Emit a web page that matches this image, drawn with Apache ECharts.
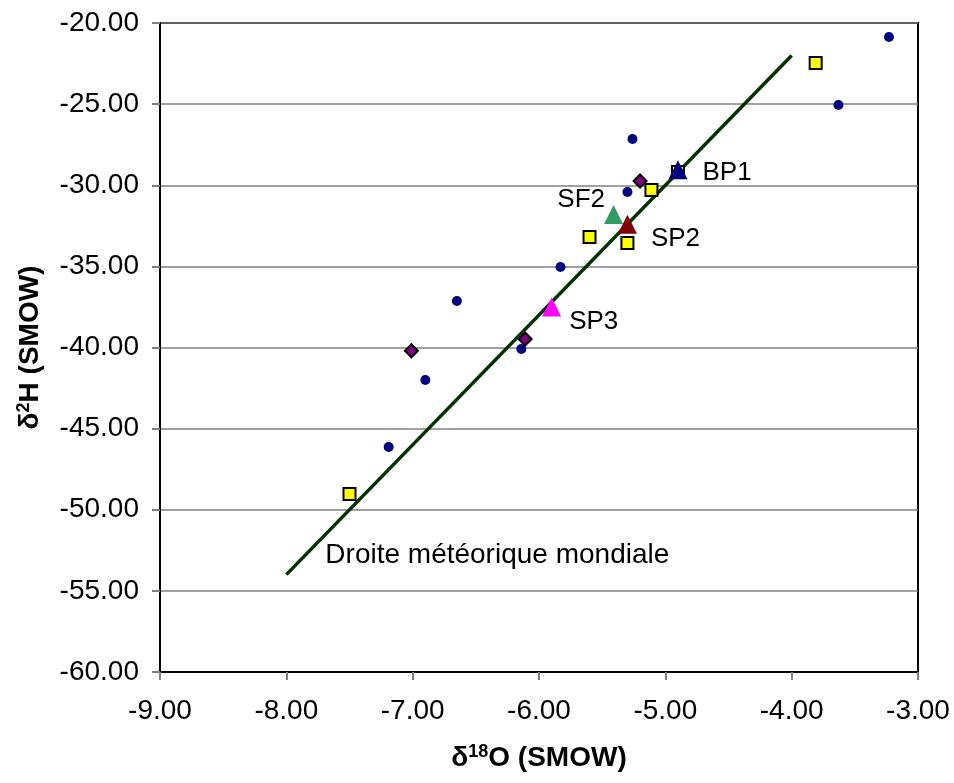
<!DOCTYPE html>
<html>
<head>
<meta charset="utf-8">
<script src="https://cdn.jsdelivr.net/npm/echarts@6/dist/echarts.min.js"></script>
<style>
  html, body { margin: 0; padding: 0; background: #fff; }
  #chart { width: 954px; height: 783px; }
</style>
</head>
<body>
<div id="chart"></div>
<script>
// echantillons (d18O, d2H)
const pointsRonds = [
  [-3.23, -20.86], [-3.63, -25.05], [-5.26, -27.15], [-5.30, -30.42],
  [-5.83, -35.04], [-6.65, -37.13], [-6.14, -40.09], [-6.90, -42.00],
  [-7.19, -46.13]
]
const pointsCarres = [
  [-3.81, -22.47], [-4.90, -29.18], [-5.11, -30.29], [-5.60, -33.19],
  [-5.30, -33.56], [-7.50, -49.03]
]
const pointsLosanges = [
  [-5.20, -29.74], [-7.01, -40.20], [-6.11, -39.48]
]
const sources = ['BP1', 'SF2', 'SP2', 'SP3']
const sourcesValeurs = [
  [-4.90, -29.05], [-5.41, -31.80], [-5.30, -32.40], [-5.90, -37.50]
]
// droite météorique mondiale : d2H = 8 d18O + 10
const droite = [[-8, -54], [-4, -22]]
const libelleDroite = 'Droite météorique mondiale'

const chart = echarts.init(document.getElementById('chart'))

const police = 'Liberation Sans, Arial, sans-serif'
const couleursSources = ['#000080', '#339966', '#800000', '#FF00FF']
const positionsLabels = [
  { position: 'right', offset: [10, 3] },
  { position: 'left', offset: [6, -15] },
  { position: 'right', offset: [9, 15] },
  { position: 'right', offset: [3, 15] }
]

const seriesSources = sources.map((nom, i) => ({
  type: 'scatter',
  symbol: 'triangle',
  symbolSize: 19,
  itemStyle: { color: couleursSources[i], opacity: 1 },
  label: {
    show: true,
    formatter: nom,
    color: '#000',
    fontSize: 26,
    fontFamily: police,
    position: positionsLabels[i].position,
    offset: positionsLabels[i].offset
  },
  data: [sourcesValeurs[i]],
  z: 5
}))

const richNom = {
  b: { fontSize: 28, fontWeight: 'bold', fontFamily: police, color: '#000' },
  s: { fontSize: 18, fontWeight: 'bold', fontFamily: police, color: '#000', verticalAlign: 'top', padding: [0, 0, 12, 0] }
}

chart.setOption({
  animation: false,
  grid: { left: 160, right: 36, top: 23, bottom: 111, show: true, borderColor: '#000', borderWidth: 2 },
  xAxis: {
    type: 'value',
    min: -9, max: -3, interval: 1,
    name: '{b|δ}{s|18}{b|O (SMOW)}',
    nameLocation: 'middle',
    nameGap: 71,
    nameTextStyle: { rich: richNom },
    axisLine: { onZero: false, lineStyle: { color: '#000', width: 2 } },
    axisTick: { length: 8, lineStyle: { color: '#808080', width: 2 } },
    axisLabel: { margin: 25, fontSize: 28, fontFamily: police, color: '#000', formatter: v => v.toFixed(2) },
    splitLine: { show: false }
  },
  yAxis: {
    type: 'value',
    min: -60, max: -20, interval: 5,
    name: '{b|δ}{s|2}{b|H (SMOW)}',
    nameLocation: 'middle',
    nameGap: 115,
    nameRotate: 90,
    nameTextStyle: { rich: richNom },
    axisLine: { onZero: false, lineStyle: { color: '#000', width: 2 } },
    axisTick: { length: 8, lineStyle: { color: '#808080', width: 2 } },
    axisLabel: { margin: 21, fontSize: 28, fontFamily: police, color: '#000', formatter: v => v.toFixed(2) },
    splitLine: { lineStyle: { color: '#808080', width: 1.5 } }
  },
  series: [
    {
      type: 'line',
      data: droite,
      symbol: 'none',
      lineStyle: { color: '#003300', width: 3.5 },
      markPoint: {
        symbol: 'circle',
        symbolSize: 0,
        data: [{ coord: droite[0], value: libelleDroite }],
        label: {
          show: true,
          position: 'right',
          offset: [34, -19],
          formatter: libelleDroite,
          color: '#000',
          fontSize: 28,
          fontFamily: police
        }
      },
      z: 2
    },
    {
      type: 'scatter',
      symbol: 'circle',
      symbolSize: 10,
      itemStyle: { color: '#000080', opacity: 1 },
      data: pointsRonds,
      z: 3
    },
    {
      type: 'scatter',
      symbol: 'rect',
      symbolSize: 12,
      itemStyle: { color: '#FFFF00', borderColor: '#000', borderWidth: 2, opacity: 1 },
      data: pointsCarres,
      z: 3
    },
    {
      type: 'scatter',
      symbol: 'diamond',
      symbolSize: 13,
      itemStyle: { color: '#800080', borderColor: '#000', borderWidth: 2, opacity: 1 },
      data: pointsLosanges,
      z: 4
    },
    ...seriesSources
  ]
})
</script>
</body>
</html>
